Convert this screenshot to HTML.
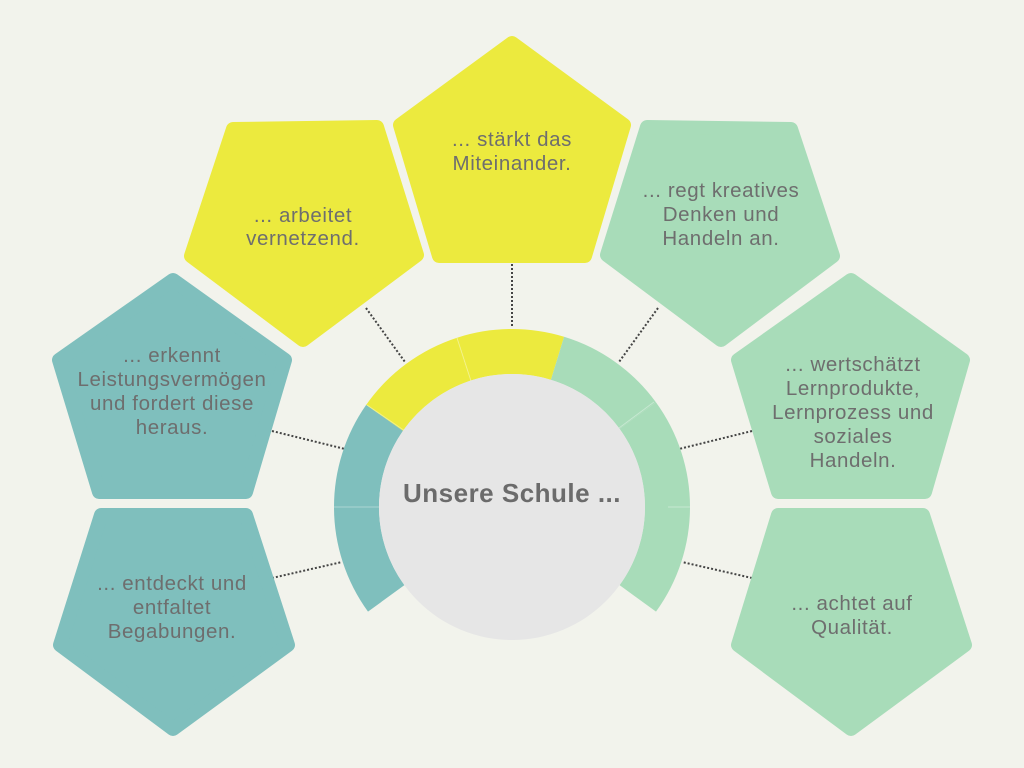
<!DOCTYPE html>
<html><head><meta charset="utf-8"><style>
html,body{margin:0;padding:0;background:#f2f3ec;}
svg{display:block}
text{font-family:"Liberation Sans",sans-serif;fill:#6e6e6e;font-size:20.5px;letter-spacing:0.6px;text-anchor:middle}
</style></head><body>
<svg width="1024" height="768" viewBox="0 0 1024 768">
<rect width="1024" height="768" fill="#f2f3ec"/>
<g stroke="#444" stroke-width="2" stroke-dasharray="2 2" fill="none">
<line x1="512" y1="264" x2="512" y2="328"/>
<line x1="366" y1="308" x2="405" y2="362"/>
<line x1="658" y1="308" x2="619" y2="362"/>
<line x1="272" y1="431" x2="345" y2="449"/>
<line x1="752" y1="431" x2="679" y2="449"/>
<line x1="272" y1="578" x2="342" y2="562"/>
<line x1="752" y1="578" x2="682" y2="562"/>
</g>
<g stroke-linejoin="round" stroke-width="14">
<polygon fill="#ecea3e" stroke="#ecea3e" points="512,43 624,125 585,256 439,256 400,125"/>
<polygon fill="#ecea3e" stroke="#ecea3e" points="233,129 377,127 417,255 303,340 191,256"/>
<polygon fill="#a8dcb9" stroke="#a8dcb9" points="791,129 647,127 607,255 721,340 833,256"/>
<polygon fill="#7fbfbd" stroke="#7fbfbd" points="173,280 285,360 246,492 99,492 59,360"/>
<polygon fill="#7fbfbd" stroke="#7fbfbd" points="101,515 246,515 288,645 173,729 60,645"/>
<polygon fill="#a8dcb9" stroke="#a8dcb9" points="851,280 963,360 925,492 778,492 738,360"/>
<polygon fill="#a8dcb9" stroke="#a8dcb9" points="778,515 923,515 965,645 851,729 738,645"/>
</g>
<g fill="none" stroke-width="45">
<path d="M386.2,598.4 A155.5,155.5 0 0 1 356.5,507" stroke="#7fbfbd"/>
<path d="M356.5,507 A155.5,155.5 0 0 1 384.6,417.8" stroke="#7fbfbd"/>
<path d="M384.6,417.8 A155.5,155.5 0 0 1 464,359.1" stroke="#ecea3e"/>
<path d="M464,359.1 A155.5,155.5 0 0 1 557.5,358.3" stroke="#ecea3e"/>
<path d="M557.5,358.3 A155.5,155.5 0 0 1 637.8,415.6" stroke="#a8dcb9"/>
<path d="M637.8,415.6 A155.5,155.5 0 0 1 667.5,507" stroke="#a8dcb9"/>
<path d="M667.5,507 A155.5,155.5 0 0 1 637.8,598.4" stroke="#a8dcb9"/>
</g>
<g stroke="#ffffff" stroke-opacity="0.35" stroke-width="1">
<line x1="334" y1="507" x2="380" y2="507"/>
<line x1="668" y1="507" x2="690" y2="507"/>
<line x1="367" y1="405" x2="405" y2="431"/>
<line x1="457" y1="338" x2="471" y2="381"/>
<line x1="654" y1="402" x2="619" y2="428"/>
</g>
<circle cx="512" cy="507" r="133" fill="#e6e6e6"/>
<text x="512" y="502" style="font-weight:bold;font-size:26px;letter-spacing:0.5px;fill:#6b6b6b">Unsere Schule ...</text>
<text x="512" y="146">... stärkt das</text><text x="512" y="170">Miteinander.</text>
<text x="303" y="222">... arbeitet</text><text x="303" y="245">vernetzend.</text>
<text x="721" y="197">... regt kreatives</text><text x="721" y="221">Denken und</text><text x="721" y="245">Handeln an.</text>
<text x="172" y="362">... erkennt</text><text x="172" y="386">Leistungsvermögen</text><text x="172" y="410">und fordert diese</text><text x="172" y="434">heraus.</text>
<text x="172" y="590">... entdeckt und</text><text x="172" y="614">entfaltet</text><text x="172" y="638">Begabungen.</text>
<text x="853" y="371">... wertschätzt</text><text x="853" y="395">Lernprodukte,</text><text x="853" y="419">Lernprozess und</text><text x="853" y="443">soziales</text><text x="853" y="467">Handeln.</text>
<text x="852" y="610">... achtet auf</text><text x="852" y="634">Qualität.</text>
</svg>
</body></html>
